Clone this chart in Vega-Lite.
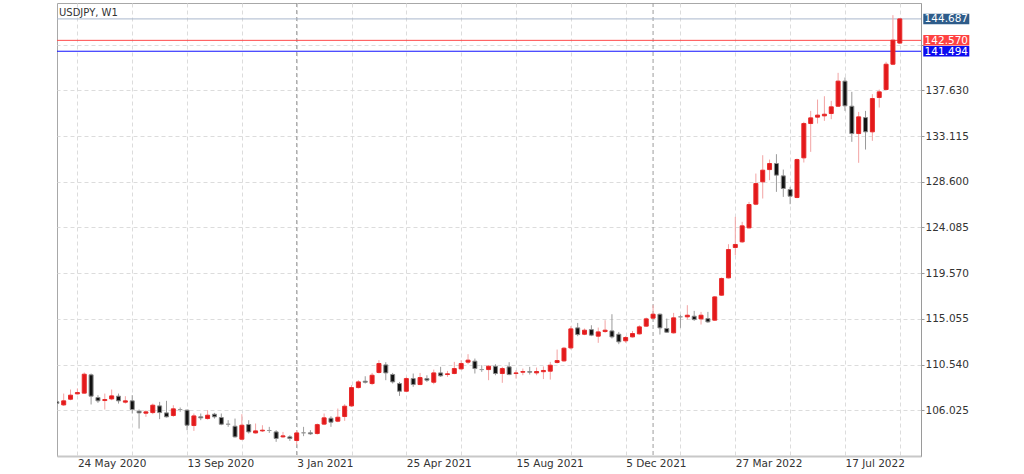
{
  "$schema": "https://vega.github.io/schema/vega-lite/v6.json",
  "width": 864,
  "height": 453,
  "autosize": {"type": "none"},
  "padding": {"left": 57, "top": 3, "right": 103, "bottom": 18},
  "background": "white",
  "config": {"view": {"stroke": "#a8a8a8"}, "font": "DejaVu Sans"},
  "datasets": {
    "candles": [
      {"date": "2020-05-03", "open": 106.85, "high": 107.00, "low": 106.35, "close": 106.70},
      {"date": "2020-05-10", "open": 106.55, "high": 107.67, "low": 106.45, "close": 106.95},
      {"date": "2020-05-17", "open": 107.11, "high": 108.07, "low": 107.01, "close": 107.51},
      {"date": "2020-05-24", "open": 107.64, "high": 108.17, "low": 107.57, "close": 107.77},
      {"date": "2020-05-31", "open": 107.71, "high": 109.75, "low": 107.67, "close": 109.58},
      {"date": "2020-06-07", "open": 109.52, "high": 109.65, "low": 106.59, "close": 107.41},
      {"date": "2020-06-14", "open": 107.28, "high": 107.51, "low": 106.75, "close": 106.95},
      {"date": "2020-06-21", "open": 106.98, "high": 107.67, "low": 106.09, "close": 107.08},
      {"date": "2020-06-28", "open": 107.14, "high": 108.07, "low": 107.01, "close": 107.44},
      {"date": "2020-07-05", "open": 107.41, "high": 107.67, "low": 106.68, "close": 106.95},
      {"date": "2020-07-12", "open": 106.82, "high": 107.41, "low": 106.68, "close": 106.95},
      {"date": "2020-07-19", "open": 106.95, "high": 107.51, "low": 105.70, "close": 106.09},
      {"date": "2020-07-26", "open": 105.93, "high": 106.09, "low": 104.21, "close": 105.76},
      {"date": "2020-08-02", "open": 105.73, "high": 106.03, "low": 105.37, "close": 105.86},
      {"date": "2020-08-09", "open": 105.79, "high": 106.68, "low": 105.63, "close": 106.52},
      {"date": "2020-08-16", "open": 106.45, "high": 106.85, "low": 105.14, "close": 105.79},
      {"date": "2020-08-23", "open": 105.76, "high": 106.95, "low": 105.30, "close": 105.37},
      {"date": "2020-08-30", "open": 105.50, "high": 106.52, "low": 105.37, "close": 106.16},
      {"date": "2020-09-06", "open": 106.09, "high": 106.29, "low": 105.86, "close": 106.09},
      {"date": "2020-09-13", "open": 106.03, "high": 106.09, "low": 104.05, "close": 104.54},
      {"date": "2020-09-20", "open": 104.51, "high": 105.70, "low": 103.98, "close": 105.46},
      {"date": "2020-09-27", "open": 105.37, "high": 105.70, "low": 105.04, "close": 105.27},
      {"date": "2020-10-04", "open": 105.20, "high": 106.03, "low": 105.10, "close": 105.53},
      {"date": "2020-10-11", "open": 105.63, "high": 105.76, "low": 105.20, "close": 105.37},
      {"date": "2020-10-18", "open": 105.30, "high": 105.70, "low": 104.54, "close": 104.64},
      {"date": "2020-10-25", "open": 104.64, "high": 105.04, "low": 104.38, "close": 104.64},
      {"date": "2020-11-01", "open": 104.44, "high": 105.20, "low": 103.32, "close": 103.39},
      {"date": "2020-11-08", "open": 103.16, "high": 105.63, "low": 103.06, "close": 104.54},
      {"date": "2020-11-15", "open": 104.61, "high": 105.04, "low": 103.72, "close": 103.88},
      {"date": "2020-11-22", "open": 103.78, "high": 104.71, "low": 103.72, "close": 103.98},
      {"date": "2020-11-29", "open": 103.98, "high": 104.54, "low": 103.88, "close": 104.05},
      {"date": "2020-12-06", "open": 104.02, "high": 104.38, "low": 103.78, "close": 104.02},
      {"date": "2020-12-13", "open": 103.88, "high": 104.05, "low": 102.90, "close": 103.23},
      {"date": "2020-12-20", "open": 103.39, "high": 103.88, "low": 103.29, "close": 103.49},
      {"date": "2020-12-27", "open": 103.39, "high": 103.55, "low": 102.99, "close": 103.23},
      {"date": "2021-01-03", "open": 103.03, "high": 104.05, "low": 102.57, "close": 103.78},
      {"date": "2021-01-10", "open": 103.79, "high": 104.38, "low": 103.46, "close": 103.79},
      {"date": "2021-01-17", "open": 103.79, "high": 104.05, "low": 103.59, "close": 103.69},
      {"date": "2021-01-24", "open": 103.72, "high": 104.71, "low": 103.62, "close": 104.60},
      {"date": "2021-01-31", "open": 104.65, "high": 105.70, "low": 104.55, "close": 105.27},
      {"date": "2021-02-07", "open": 105.23, "high": 105.43, "low": 104.38, "close": 104.84},
      {"date": "2021-02-14", "open": 104.94, "high": 106.19, "low": 104.84, "close": 105.33},
      {"date": "2021-02-21", "open": 105.40, "high": 106.62, "low": 104.97, "close": 106.42},
      {"date": "2021-02-28", "open": 106.45, "high": 108.50, "low": 106.35, "close": 108.26},
      {"date": "2021-03-07", "open": 108.26, "high": 108.99, "low": 108.17, "close": 108.82},
      {"date": "2021-03-14", "open": 108.89, "high": 109.38, "low": 108.66, "close": 108.79},
      {"date": "2021-03-21", "open": 108.66, "high": 109.71, "low": 108.50, "close": 109.48},
      {"date": "2021-03-28", "open": 109.75, "high": 110.97, "low": 109.65, "close": 110.64},
      {"date": "2021-04-04", "open": 110.50, "high": 110.77, "low": 108.99, "close": 109.71},
      {"date": "2021-04-11", "open": 109.55, "high": 109.71, "low": 108.66, "close": 108.82},
      {"date": "2021-04-18", "open": 108.66, "high": 108.82, "low": 107.44, "close": 107.90},
      {"date": "2021-04-25", "open": 107.90, "high": 109.32, "low": 107.84, "close": 109.15},
      {"date": "2021-05-02", "open": 109.15, "high": 109.65, "low": 108.33, "close": 108.56},
      {"date": "2021-05-09", "open": 108.56, "high": 109.71, "low": 108.50, "close": 109.25},
      {"date": "2021-05-16", "open": 109.15, "high": 109.48, "low": 108.82, "close": 108.99},
      {"date": "2021-05-23", "open": 108.79, "high": 110.04, "low": 108.59, "close": 109.71},
      {"date": "2021-05-30", "open": 109.71, "high": 110.31, "low": 109.32, "close": 109.42},
      {"date": "2021-06-06", "open": 109.55, "high": 109.91, "low": 109.32, "close": 109.62},
      {"date": "2021-06-13", "open": 109.65, "high": 110.80, "low": 109.58, "close": 110.14},
      {"date": "2021-06-20", "open": 110.11, "high": 110.97, "low": 110.04, "close": 110.64},
      {"date": "2021-06-27", "open": 110.77, "high": 111.56, "low": 110.57, "close": 110.97},
      {"date": "2021-07-04", "open": 110.87, "high": 111.13, "low": 109.65, "close": 110.14},
      {"date": "2021-07-11", "open": 110.04, "high": 110.47, "low": 109.81, "close": 110.04},
      {"date": "2021-07-18", "open": 110.04, "high": 110.47, "low": 108.99, "close": 110.37},
      {"date": "2021-07-25", "open": 110.37, "high": 110.57, "low": 109.48, "close": 109.65},
      {"date": "2021-08-01", "open": 109.65, "high": 110.31, "low": 108.73, "close": 110.14},
      {"date": "2021-08-08", "open": 110.31, "high": 110.77, "low": 109.48, "close": 109.55},
      {"date": "2021-08-15", "open": 109.65, "high": 109.98, "low": 109.15, "close": 109.71},
      {"date": "2021-08-22", "open": 109.78, "high": 110.14, "low": 109.48, "close": 109.84},
      {"date": "2021-08-29", "open": 109.84, "high": 110.31, "low": 109.55, "close": 109.78},
      {"date": "2021-09-05", "open": 109.71, "high": 110.24, "low": 109.48, "close": 109.85},
      {"date": "2021-09-12", "open": 109.83, "high": 110.35, "low": 109.10, "close": 109.95},
      {"date": "2021-09-19", "open": 109.88, "high": 110.80, "low": 109.05, "close": 110.47},
      {"date": "2021-09-26", "open": 110.74, "high": 112.02, "low": 110.64, "close": 110.93},
      {"date": "2021-10-03", "open": 110.90, "high": 112.28, "low": 110.80, "close": 112.15},
      {"date": "2021-10-10", "open": 112.18, "high": 114.33, "low": 112.02, "close": 114.06},
      {"date": "2021-10-17", "open": 114.16, "high": 114.65, "low": 113.34, "close": 113.50},
      {"date": "2021-10-24", "open": 113.53, "high": 114.10, "low": 113.44, "close": 113.93},
      {"date": "2021-10-31", "open": 113.99, "high": 114.42, "low": 113.34, "close": 113.44},
      {"date": "2021-11-07", "open": 113.34, "high": 114.19, "low": 112.68, "close": 113.76},
      {"date": "2021-11-14", "open": 113.80, "high": 114.92, "low": 113.67, "close": 113.93},
      {"date": "2021-11-21", "open": 113.86, "high": 115.51, "low": 113.11, "close": 113.27},
      {"date": "2021-11-28", "open": 113.53, "high": 113.76, "low": 112.55, "close": 112.78},
      {"date": "2021-12-05", "open": 112.88, "high": 113.34, "low": 112.68, "close": 113.21},
      {"date": "2021-12-12", "open": 113.27, "high": 113.86, "low": 113.21, "close": 113.60},
      {"date": "2021-12-19", "open": 113.57, "high": 114.42, "low": 113.50, "close": 114.26},
      {"date": "2021-12-26", "open": 114.33, "high": 115.18, "low": 114.26, "close": 115.05},
      {"date": "2022-01-02", "open": 115.12, "high": 116.40, "low": 115.05, "close": 115.51},
      {"date": "2022-01-09", "open": 115.51, "high": 115.58, "low": 113.50, "close": 114.16},
      {"date": "2022-01-16", "open": 114.10, "high": 115.08, "low": 113.67, "close": 113.73},
      {"date": "2022-01-23", "open": 113.67, "high": 115.64, "low": 113.60, "close": 115.15},
      {"date": "2022-01-30", "open": 115.25, "high": 115.45, "low": 114.16, "close": 115.25},
      {"date": "2022-02-06", "open": 115.25, "high": 116.40, "low": 114.98, "close": 115.41},
      {"date": "2022-02-13", "open": 115.31, "high": 115.84, "low": 114.85, "close": 114.98},
      {"date": "2022-02-20", "open": 115.05, "high": 115.74, "low": 114.49, "close": 115.41},
      {"date": "2022-02-27", "open": 115.08, "high": 115.74, "low": 114.65, "close": 114.75},
      {"date": "2022-03-06", "open": 114.92, "high": 117.29, "low": 114.85, "close": 117.22},
      {"date": "2022-03-13", "open": 117.39, "high": 119.14, "low": 117.32, "close": 119.04},
      {"date": "2022-03-20", "open": 119.10, "high": 122.43, "low": 119.04, "close": 121.90},
      {"date": "2022-03-27", "open": 122.10, "high": 125.13, "low": 121.34, "close": 122.40},
      {"date": "2022-04-03", "open": 122.66, "high": 124.64, "low": 122.56, "close": 124.24},
      {"date": "2022-04-10", "open": 124.04, "high": 126.61, "low": 123.98, "close": 126.35},
      {"date": "2022-04-17", "open": 126.38, "high": 129.41, "low": 126.28, "close": 128.42},
      {"date": "2022-04-24", "open": 128.59, "high": 131.22, "low": 126.94, "close": 129.74},
      {"date": "2022-05-01", "open": 129.80, "high": 130.79, "low": 128.75, "close": 130.40},
      {"date": "2022-05-08", "open": 130.40, "high": 131.32, "low": 127.60, "close": 129.25},
      {"date": "2022-05-15", "open": 129.18, "high": 129.80, "low": 127.10, "close": 127.93},
      {"date": "2022-05-22", "open": 127.83, "high": 128.09, "low": 126.38, "close": 127.17},
      {"date": "2022-05-29", "open": 127.04, "high": 130.89, "low": 126.97, "close": 130.79},
      {"date": "2022-06-05", "open": 130.96, "high": 134.52, "low": 130.50, "close": 134.35},
      {"date": "2022-06-12", "open": 134.35, "high": 135.60, "low": 131.55, "close": 134.91},
      {"date": "2022-06-19", "open": 134.98, "high": 136.72, "low": 134.35, "close": 135.18},
      {"date": "2022-06-26", "open": 135.11, "high": 137.05, "low": 134.61, "close": 135.27},
      {"date": "2022-07-03", "open": 135.34, "high": 136.59, "low": 134.78, "close": 136.00},
      {"date": "2022-07-10", "open": 136.06, "high": 139.36, "low": 136.00, "close": 138.54},
      {"date": "2022-07-17", "open": 138.54, "high": 138.90, "low": 135.60, "close": 136.10},
      {"date": "2022-07-24", "open": 136.06, "high": 137.48, "low": 132.54, "close": 133.36},
      {"date": "2022-07-31", "open": 133.36, "high": 135.50, "low": 130.47, "close": 135.01},
      {"date": "2022-08-07", "open": 134.94, "high": 135.60, "low": 131.78, "close": 133.53},
      {"date": "2022-08-14", "open": 133.53, "high": 137.25, "low": 132.64, "close": 136.82},
      {"date": "2022-08-21", "open": 136.92, "high": 137.71, "low": 135.93, "close": 137.48},
      {"date": "2022-08-28", "open": 137.71, "high": 140.45, "low": 137.64, "close": 140.21},
      {"date": "2022-09-04", "open": 140.21, "high": 145.06, "low": 140.12, "close": 142.59},
      {"date": "2022-09-11", "open": 142.30, "high": 144.75, "low": 142.20, "close": 144.687}
    ],
    "years": [{"date": "2021-01-03"}, {"date": "2022-01-02"}],
    "levels": [
      {"price": 144.687, "kind": "current"},
      {"price": 142.570, "kind": "red"},
      {"price": 141.494, "kind": "blue"}
    ],
    "caption": [{"symbol": "USDJPY, W1"}]
  },
  "layer": [
    {
      "data": {"name": "years"},
      "mark": {"type": "rule", "stroke": "#9c9c9c", "strokeWidth": 1, "strokeDash": [4, 3]},
      "encoding": {
        "x": {"field": "date", "type": "temporal", "title": null}
      }
    },
    {
      "data": {"name": "levels"},
      "mark": {"type": "rule", "strokeWidth": 1},
      "encoding": {
        "y": {"field": "price", "type": "quantitative", "title": null},
        "stroke": {"field": "kind", "type": "nominal", "legend": null, "scale": {"domain": ["current", "red", "blue"], "range": ["#a9b7cc", "#ff4a4a", "#1010ff"]}}
      }
    },
    {
      "data": {"name": "candles"},
      "mark": {"type": "rule", "strokeWidth": 1, "clip": true},
      "encoding": {
        "x": {
          "field": "date", "type": "temporal", "title": null,
          "scale": {"type": "utc", "padding": 0, "domain": [{"year": 2020, "month": 5, "date": 3, "hours": 4, "utc": true}, {"year": 2022, "month": 10, "date": 2, "hours": 16, "utc": true}]},
          "axis": {
            "orient": "bottom",
            "values": [
              {"year": 2020, "month": 5, "date": 24, "utc": true},
              {"year": 2020, "month": 7, "date": 19, "utc": true},
              {"year": 2020, "month": 9, "date": 13, "utc": true},
              {"year": 2020, "month": 11, "date": 8, "utc": true},
              {"year": 2021, "month": 1, "date": 3, "utc": true},
              {"year": 2021, "month": 2, "date": 28, "utc": true},
              {"year": 2021, "month": 4, "date": 25, "utc": true},
              {"year": 2021, "month": 6, "date": 20, "utc": true},
              {"year": 2021, "month": 8, "date": 15, "utc": true},
              {"year": 2021, "month": 10, "date": 10, "utc": true},
              {"year": 2021, "month": 12, "date": 5, "utc": true},
              {"year": 2022, "month": 1, "date": 30, "utc": true},
              {"year": 2022, "month": 3, "date": 27, "utc": true},
              {"year": 2022, "month": 5, "date": 22, "utc": true},
              {"year": 2022, "month": 7, "date": 17, "utc": true},
              {"year": 2022, "month": 9, "date": 11, "utc": true}
            ],
            "labelExpr": "(round((datum.value - utc(2020,4,24))/604800000) % 16) == 0 ? utcFormat(datum.value, '%-d %b %Y') : ''",
            "grid": true, "gridColor": "#dcdcdc", "gridDash": [4, 3], "gridWidth": 1,
            "ticks": false, "domainColor": "#c8c8c8", "domainWidth": 2,
            "labelAlign": "left", "labelBaseline": "top", "labelPadding": 2,
            "labelFont": "DejaVu Sans", "labelFontSize": 10.5, "labelColor": "#333333",
            "labelOverlap": false, "labelFlush": false, "labelBound": false
          }
        },
        "y": {
          "field": "low", "type": "quantitative", "title": null,
          "scale": {"domain": [101.5, 146.26], "zero": false, "nice": false, "padding": 0},
          "axis": {
            "orient": "right",
            "values": [106.025, 110.54, 115.055, 119.57, 124.085, 128.6, 133.115, 137.63, 142.145],
            "labelExpr": "datum.value > 140 ? '' : format(datum.value, '.3f')",
            "grid": true, "gridColor": "#dcdcdc", "gridDash": [4, 3], "gridWidth": 1,
            "domainColor": "#9a9a9a", "tickColor": "#9a9a9a", "tickSize": 3,
            "labelPadding": 1, "labelFont": "DejaVu Sans", "labelFontSize": 10.5, "labelColor": "#333333",
            "labelOverlap": false, "labelFlush": false, "labelBound": false
          }
        },
        "y2": {"field": "high"},
        "stroke": {
          "condition": [
            {"test": "datum.close > datum.open", "value": "#f2a3a3"},
            {"test": "datum.close < datum.open", "value": "#9a9a9a"}
          ],
          "value": "#a0a0a0"
        }
      }
    },
    {
      "data": {"name": "candles"},
      "mark": {"type": "bar", "size": 4, "strokeWidth": 1, "clip": true},
      "encoding": {
        "x": {"field": "date", "type": "temporal", "title": null},
        "y": {"field": "open", "type": "quantitative", "title": null},
        "y2": {"field": "close"},
        "fill": {
          "condition": [
            {"test": "datum.close > datum.open", "value": "#e3191b"},
            {"test": "datum.close < datum.open", "value": "#111111"}
          ],
          "value": "#9a9a9a"
        },
        "stroke": {
          "condition": [
            {"test": "datum.close > datum.open", "value": "#e82a2a"},
            {"test": "datum.close < datum.open", "value": "#8a8a8a"}
          ],
          "value": "#9a9a9a"
        }
      }
    },
    {
      "data": {"name": "levels"},
      "mark": {"type": "bar", "orient": "horizontal", "size": 10.5},
      "encoding": {
        "x": {"datum": {"year": 2022, "month": 10, "date": 5, "utc": true}, "type": "temporal"},
        "x2": {"datum": {"year": 2022, "month": 11, "date": 21, "utc": true}},
        "y": {"field": "price", "type": "quantitative", "title": null},
        "fill": {"field": "kind", "type": "nominal", "legend": null, "scale": {"domain": ["current", "red", "blue"], "range": ["#2e5c8a", "#ff4242", "#0c0cf0"]}}
      }
    },
    {
      "data": {"name": "levels"},
      "mark": {"type": "text", "font": "DejaVu Sans", "fontSize": 10.5, "fill": "#ffffff", "align": "center", "baseline": "middle", "dy": 0.5},
      "encoding": {
        "x": {"datum": {"year": 2022, "month": 10, "date": 28, "hours": 12, "utc": true}, "type": "temporal"},
        "y": {"field": "price", "type": "quantitative", "title": null},
        "text": {"field": "price", "type": "quantitative", "format": ".3f"}
      }
    },
    {
      "data": {"name": "caption"},
      "mark": {"type": "text", "font": "DejaVu Sans", "fontSize": 10, "fill": "#333333", "align": "left", "baseline": "alphabetic", "dx": 2, "dy": 13},
      "encoding": {
        "x": {"datum": {"year": 2020, "month": 5, "date": 3, "hours": 4, "utc": true}, "type": "temporal"},
        "y": {"datum": 146.26, "type": "quantitative"},
        "text": {"field": "symbol", "type": "nominal"}
      }
    }
  ]
}
